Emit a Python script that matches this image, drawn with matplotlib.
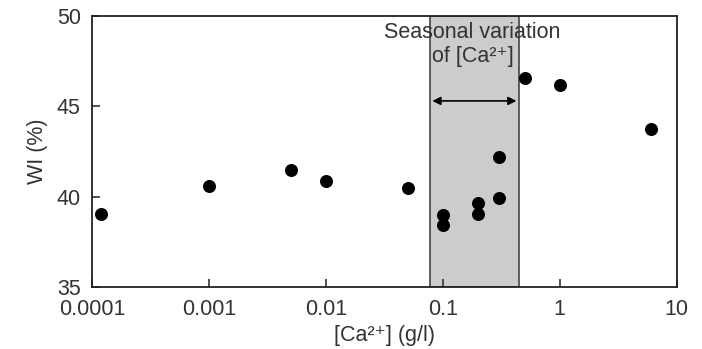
import matplotlib.pyplot as plt

plt.rcParams['font.family'] = ['Liberation Sans', 'DejaVu Sans']

ca = [0.00012, 0.001, 0.005, 0.01, 0.05, 0.1, 0.1, 0.2, 0.2, 0.3, 0.3, 0.5, 1, 6]
wi = [39.05, 40.6, 41.5, 40.85, 40.45, 39.0, 38.45, 39.65, 39.05, 39.9, 42.2, 46.55, 46.2, 43.75]
season = [0.077, 0.45]
xticks = [0.0001, 0.001, 0.01, 0.1, 1, 10]
xticklabels = ['0.0001', '0.001', '0.01', '0.1', '1', '10']

txt = '#333333'
fs = 15.5

fig, ax = plt.subplots(figsize=(7.02, 3.49), dpi=100)
fig.subplots_adjust(left=0.131, right=0.964, top=0.954, bottom=0.178)

ax.axvspan(season[0], season[1], facecolor='#cccccc', edgecolor='#444444', lw=1.2, zorder=1)
ax.annotate('', xy=(season[0], 45.3), xytext=(season[1], 45.3),
            arrowprops=dict(arrowstyle='<|-|>', color='black', lw=1.2, mutation_scale=12), zorder=3)
ax.text(0.18, 49.1, 'Seasonal variation', ha='center', va='center', fontsize=fs, color=txt)
ax.text(0.18, 47.75, 'of [Ca²⁺]', ha='center', va='center', fontsize=fs, color=txt)

ax.scatter(ca, wi, s=70, color='black', zorder=4)

ax.set_xscale('log')
ax.set_xlim(0.0001, 10)
ax.set_ylim(35, 50)
ax.set_xticks(xticks)
ax.set_xticklabels(xticklabels)
ax.set_yticks([35, 40, 45, 50])
ax.minorticks_off()
ax.tick_params(direction='in', length=6, width=1.2, labelsize=fs, colors=txt)
ax.tick_params(axis='x', pad=9)
ax.tick_params(axis='y', pad=8)
for s in ax.spines.values():
    s.set_linewidth(1.3)
    s.set_color('#222222')
ax.set_xlabel('[Ca²⁺] (g/l)', fontsize=fs, color=txt, labelpad=3)
ax.set_ylabel('WI (%)', fontsize=fs, color=txt, labelpad=6)

plt.savefig('out.png')
plt.close()
